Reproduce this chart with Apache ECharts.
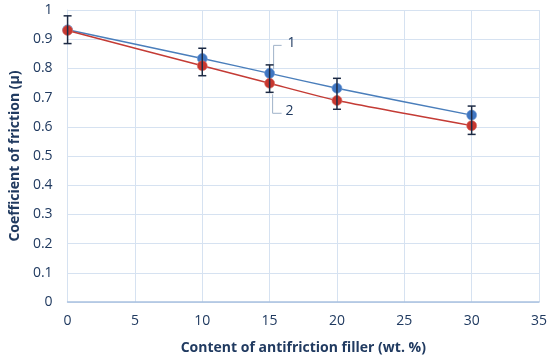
<!DOCTYPE html>
<html><head><meta charset="utf-8">
<script src="https://cdn.jsdelivr.net/npm/echarts@6/dist/echarts.min.js"></script>
<style>html,body{margin:0;padding:0;background:#fff}#c{width:550px;height:362px}</style>
</head><body><div id="c"></div>
<script>
var xValues = [0, 10, 15, 20, 30];
var series1 = [0.932, 0.834, 0.783, 0.732, 0.640];
var series2 = [0.930, 0.809, 0.749, 0.690, 0.604];
var errLow  = [0.885, 0.775, 0.718, 0.660, 0.574];
var errHigh = [0.980, 0.869, 0.812, 0.766, 0.671];
var seriesNames = ['1', '2'];
var xTicks = [0, 5, 10, 15, 20, 25, 30, 35];
var yTicks = [0, 0.1, 0.2, 0.3, 0.4, 0.5, 0.6, 0.7, 0.8, 0.9, 1];

var navy = '#203a60';
var font = '"Open Sans", "Liberation Sans", sans-serif';
var chart = echarts.init(document.getElementById('c'));

function pairs(v){ return xValues.map(function(x,i){ return [x, v[i]]; }); }

chart.setOption({
  animation: false,
  grid: {left: 64, right: 10, top: 10, bottom: 60},
  xAxis: {
    type: 'value', min: xTicks[0], max: xTicks[xTicks.length-1], interval: 5,
    name: 'Content of antifriction filler (wt. %)', nameLocation: 'middle', nameGap: 39,
    nameTextStyle: {color: navy, fontWeight: 'bold', fontSize: 14, fontFamily: font},
    axisLine: {lineStyle: {color: '#a9c1df', width: 1.5}},
    axisTick: {show: false},
    axisLabel: {color: navy, fontSize: 14, fontFamily: font, margin: 12},
    splitLine: {lineStyle: {color: '#d6e2f1'}}
  },
  yAxis: {
    type: 'value', min: yTicks[0], max: yTicks[yTicks.length-1], interval: 0.1,
    name: 'Coefficient of friction (µ)', nameLocation: 'middle', nameGap: 44,
    nameTextStyle: {color: navy, fontWeight: 'bold', fontSize: 14, fontFamily: font},
    axisLine: {show: true, lineStyle: {color: '#d6e2f1'}},
    axisTick: {show: false},
    axisLabel: {color: navy, fontSize: 14, fontFamily: font, margin: 15,
      formatter: function(v){ return String(Math.round(v*10)/10); }},
    splitLine: {lineStyle: {color: '#d6e2f1'}}
  },
  series: [
    {
      name: seriesNames[0], type: 'line', data: pairs(series1), smooth: 0.2,
      symbol: 'circle', symbolSize: 10,
      lineStyle: {color: '#4a7ebb', width: 1.5},
      itemStyle: {color: '#3f76c2', borderColor: 'rgba(120,160,215,0.6)', borderWidth: 1}, z: 3
    },
    {
      name: seriesNames[1], type: 'line', data: pairs(series2), smooth: 0.2,
      symbol: 'circle', symbolSize: 10,
      lineStyle: {color: '#c43b35', width: 1.5},
      itemStyle: {color: '#c8372f', borderColor: 'rgba(220,120,110,0.6)', borderWidth: 1}, z: 4
    },
    {
      type: 'custom', z: 5,
      data: xValues.map(function(x,i){ return [x, errLow[i], errHigh[i]]; }),
      renderItem: function(params, api){
        var lo = api.coord([api.value(0), api.value(1)]);
        var hi = api.coord([api.value(0), api.value(2)]);
        var w = 4;
        var st = {stroke: '#1c2a44', lineWidth: 1.5};
        return {type: 'group', children: [
          {type: 'line', shape: {x1: lo[0], y1: lo[1], x2: hi[0], y2: hi[1]}, style: st},
          {type: 'line', shape: {x1: lo[0]-w, y1: lo[1], x2: lo[0]+w, y2: lo[1]}, style: st},
          {type: 'line', shape: {x1: hi[0]-w, y1: hi[1], x2: hi[0]+w, y2: hi[1]}, style: st}
        ]};
      }
    }
  ]
});

// series labels with bracket leader lines, anchored to the points at x=15
var p1 = chart.convertToPixel({gridIndex: 0}, [xValues[2], series1[2]]);
var p2 = chart.convertToPixel({gridIndex: 0}, [xValues[2], series2[2]]);
var lc = {stroke: '#9fb2c8', lineWidth: 1};
chart.setOption({graphic: [
  {type: 'polyline', shape: {points: [[p1[0]+4, p1[1]-4], [p1[0]+4, p1[1]-28], [p1[0]+12, p1[1]-28]]}, style: lc},
  {type: 'text', left: p1[0]+18, top: p1[1]-37, style: {text: seriesNames[0], fill: navy, font: '14px ' + font}},
  {type: 'polyline', shape: {points: [[p2[0]+3, p2[1]+11], [p2[0]+3, p2[1]+30], [p2[0]+12, p2[1]+30]]}, style: lc},
  {type: 'text', left: p2[0]+16, top: p2[1]+21, style: {text: seriesNames[1], fill: navy, font: '14px ' + font}}
]});
</script></body></html>
